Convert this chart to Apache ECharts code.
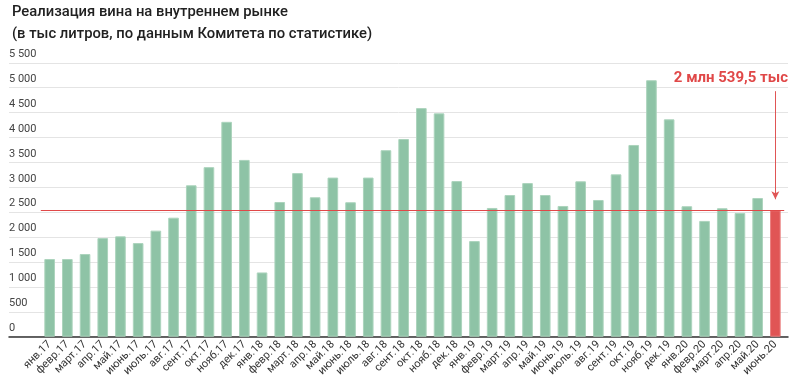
<!DOCTYPE html>
<html><head><meta charset="utf-8">
<script src="https://cdn.jsdelivr.net/npm/echarts@6/dist/echarts.min.js"></script>
<style>html,body{margin:0;padding:0;background:#fff}#c{width:800px;height:382px}</style>
</head><body><div id="c"></div>
<script>
const categories = ['янв.17','февр.17','март.17','апр.17','май.17','июнь.17','июль.17','авг.17','сент.17','окт.17','нояб.17','дек.17',
 'янв.18','февр.18','март.18','апр.18','май.18','июнь.18','июль.18','авг.18','сент.18','окт.18','нояб.18','дек.18',
 'янв.19','февр.19','март.19','апр.19','май.19','июнь.19','июль.19','авг.19','сент.19','окт.19','нояб.19','дек.19',
 'янв.20','февр.20','март.20','апр.20','май.20','июнь.20'];
const values = [1560,1560,1660,1980,2015,1880,2130,2390,3040,3405,4315,3550,
 1290,2705,3285,2800,3195,2700,3195,3745,3970,4590,4485,3125,
 1920,2585,2845,3085,2845,2625,3120,2745,3260,3850,5150,4365,
 2620,2325,2580,2485,2785,2539.5];
const refValue = 2539.5;
const annotationText = '2 млн 539,5 тыс';
const titleLines = ['Реализация вина на внутреннем рынке','(в тыс литров, по данным Комитета по статистике)'];
const yMin = 0, yMax = 5500, yStep = 500;

const green = '#8ec3a6', greenBorder = '#acd4bd', red = '#e05555', redBorder = '#ea8080';
const chart = echarts.init(document.getElementById('c'), null, {renderer:'canvas'});
const fmt = v => { const s = String(v); return s.length > 3 ? s.slice(0, s.length-3) + ' ' + s.slice(-3) : s; };
const gTop = 62.8, gBottom = 45.3;
chart.setOption({
  animation:false,
  textStyle:{fontFamily:'Roboto'},
  title:{text:titleLines.join('\n'), left:12, top:1, padding:0,
    textStyle:{fontFamily:'Roboto', fontSize:14.8, fontWeight:500, color:'#212121', lineHeight:22}},
  grid:[
    {left:9, right:12, top:gTop, bottom:gBottom},
    {left:40.8, right:15.8, top:gTop, bottom:gBottom}
  ],
  xAxis:[
    {gridIndex:0, type:'value', min:0, max:1, axisLabel:{show:false}, axisTick:{show:false}, splitLine:{show:false},
     axisLine:{show:true, lineStyle:{color:'#333', width:1.5}}},
    {gridIndex:1, type:'category', data:categories, axisLine:{show:false}, axisTick:{show:false},
     axisLabel:{rotate:45, interval:0, fontSize:11, color:'#333', margin:6, fontFamily:'Roboto'}}
  ],
  yAxis:[
    {gridIndex:0, type:'value', min:yMin, max:yMax, interval:yStep, axisLine:{show:false}, axisTick:{show:false},
     splitLine:{lineStyle:{color:'#e4e4e4', width:1}},
     axisLabel:{inside:true, margin:0, verticalAlign:'bottom', align:'left', padding:[0,0,3,0], fontSize:11, color:'#444', formatter:fmt, fontFamily:'Roboto'}},
    {gridIndex:1, type:'value', min:yMin, max:yMax, interval:yStep, show:false}
  ],
  series:[{
    type:'bar', xAxisIndex:1, yAxisIndex:1, barWidth:'60%',
    data: values.map((v,i)=>({value:v, itemStyle: i===values.length-1 ? {color:red, borderColor:redBorder, borderWidth:1} : {color:green, borderColor:greenBorder, borderWidth:1}})),
    markLine:{silent:true, symbol:['none','none'], label:{show:false}, emphasis:{disabled:true},
      data:[
        {yAxis:refValue, lineStyle:{color:'#e04848', width:1.2, type:'solid'}},
        [{coord:[categories[categories.length-1], 4930], symbol:'none'},
         {coord:[categories[categories.length-1], 2760], symbol:'arrow', symbolSize:[6,8], lineStyle:{color:'#e05555', width:1, type:'solid'}}]
      ]}
  }],
  graphic:[{type:'text', right:12, top:71, style:{text:annotationText, fill:'#e04848', font:'bold 15px Roboto'}}]
});
</script></body></html>
